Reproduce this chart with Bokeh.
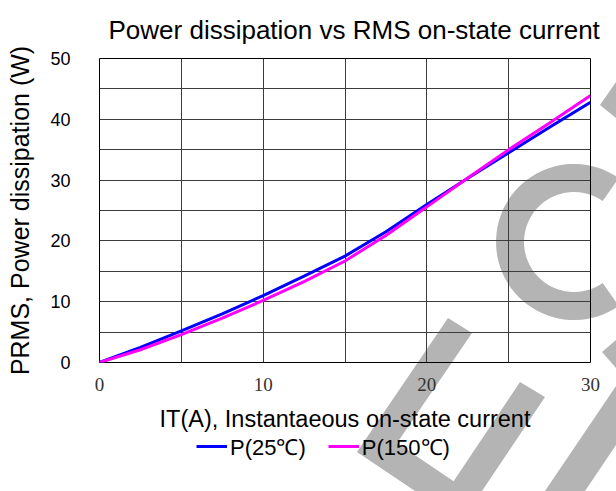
import urllib.parse
import numpy as np
from bokeh.plotting import figure
from bokeh.layouts import column
from bokeh.models import FixedTicker, Legend, LegendItem
from bokeh.embed import file_html
from bokeh.resources import INLINE

# ---- data ----
current = [0, 2.5, 5, 7.5, 10, 12.5, 15, 17.5, 20, 22.5, 25, 27.5, 30]
p_25c = [0, 2.5, 5.2, 8.0, 11.0, 14.2, 17.5, 21.5, 26.0, 30.3, 34.5, 38.7, 42.8]
p_150c = [0, 2.1, 4.6, 7.3, 10.2, 13.3, 16.7, 20.9, 25.6, 30.35, 35.0, 39.4, 43.9]
x_tick_values = [0, 10, 20, 30]
y_tick_values = [0, 10, 20, 30, 40, 50]
x_grid_values = [0, 5, 10, 15, 20, 25, 30]
y_grid_values = [0, 5, 10, 15, 20, 25, 30, 35, 40, 45, 50]
series = [("P(25℃)", p_25c, "#0000FF"), ("P(150℃)", p_150c, "#FF00FF")]

W, H = 616, 491
H_MAIN = 435          # main figure; the legend strip sits below it
H_LEG = H - H_MAIN

# ---- decorative grey watermark, painted behind the (transparent) canvases ----
shapes = [
    [(448, 318), (472, 333), (397, 443), (468, 491), (415, 491), (357, 452)],
    [(520, 382), (545, 397), (482, 491), (447, 491)],
    [(600, 105), (616, 82), (616, 118)],
    [(602, 352), (616, 340), (616, 368)],
    [(545, 491), (616, 386), (616, 445), (585, 491)],
]
cx, cy, r_out, r_in = 574, 242, 78, 50
ang = np.radians(np.linspace(55, 305, 60))
outer = [(cx + r_out * np.cos(a), cy - r_out * np.sin(a)) for a in ang]
inner = [(cx + r_in * np.cos(a), cy - r_in * np.sin(a)) for a in ang[::-1]]
shapes.append(outer + inner)
poly_svg = "".join(
    '<polygon fill="#b4b4b4" points="%s"/>' % " ".join("%.1f,%.1f" % (x, y) for x, y in s)
    for s in shapes)
svg = ('<svg xmlns="http://www.w3.org/2000/svg" width="%d" height="%d">' % (W, H)
       + poly_svg + "</svg>")
uri = "data:image/svg+xml;charset=utf-8," + urllib.parse.quote(svg)

# ---- main chart ----
p = figure(width=W, height=H_MAIN, x_range=(0, 30), y_range=(0, 50),
           output_backend="svg", toolbar_location=None,
           min_border_left=99, min_border_right=26,
           min_border_top=58, min_border_bottom=H_MAIN - 362)
p.background_fill_color = None
p.border_fill_color = None
p.outline_line_color = "black"
p.outline_line_width = 1

p.title.text = "Power dissipation vs RMS on-state current"
p.title.align = "left"
p.title.offset = 9
p.title.vertical_align = "top"
p.title.text_font = "Liberation Sans"
p.title.text_font_size = "26px"
p.title.text_font_style = "normal"
p.title.text_color = "black"
p.title.standoff = 24

for ax in (p.xaxis[0], p.yaxis[0]):
    ax.axis_line_color = None
    ax.major_tick_line_color = None
    ax.minor_tick_line_color = None
    ax.axis_label_text_font = "Liberation Sans"
    ax.axis_label_text_font_style = "normal"
    ax.axis_label_text_color = "black"

p.xaxis.ticker = FixedTicker(ticks=x_tick_values)
p.yaxis.ticker = FixedTicker(ticks=y_tick_values)
p.xaxis.axis_label = "IT(A), Instantaeous on-state current"
p.yaxis.axis_label = "PRMS, Power dissipation (W)"
p.xaxis.axis_label_text_font_size = "23.5px"
p.yaxis.axis_label_text_font_size = "25px"
p.xaxis.major_label_text_font = "Liberation Serif"
p.xaxis.major_label_text_font_size = "19px"
p.xaxis.major_label_text_color = "#333333"
p.xaxis.major_label_standoff = 9
p.xaxis.axis_label_standoff = 12
p.yaxis.major_label_text_font = "Liberation Sans"
p.yaxis.major_label_text_font_size = "18px"
p.yaxis.major_label_text_color = "black"
p.yaxis.major_label_standoff = 23
p.yaxis.axis_label_standoff = 13

p.xgrid.ticker = FixedTicker(ticks=x_grid_values)
p.ygrid.ticker = FixedTicker(ticks=y_grid_values)
for g in (p.xgrid[0], p.ygrid[0]):
    g.grid_line_color = "#3c3c3c"
    g.grid_line_width = 1
    g.grid_line_alpha = 1

for _, vals, col in series:
    p.line(current, vals, line_color=col, line_width=3)

# ---- legend strip below the chart (hidden twin renderers only feed the keys) ----
pl = figure(width=W, height=H_LEG, x_range=(0, 30), y_range=(0, 50),
            x_axis_type=None, y_axis_type=None,
            output_backend="svg", toolbar_location=None, min_border=0)
pl.background_fill_color = None
pl.border_fill_color = None
pl.outline_line_color = None
items = []
for lab, vals, col in series:
    k = pl.line(current, vals, line_color=col, line_width=3, visible=False)
    items.append(LegendItem(label=lab, renderers=[k]))
legend = Legend(items=items, orientation="horizontal", location=(97, H_LEG - 26),
                padding=0, margin=0, spacing=22, glyph_width=31, glyph_height=24,
                label_standoff=3, label_text_font="Liberation Sans",
                label_text_font_size="22px", label_text_color="black",
                background_fill_alpha=0, border_line_color=None,
                inactive_fill_alpha=0)
pl.add_layout(legend, "center")

layout = column(p, pl, spacing=0,
                styles={"background-color": "white",
                        "background-image": 'url("%s")' % uri,
                        "background-repeat": "no-repeat",
                        "background-size": "%dpx %dpx" % (W, H)})

open("out.html", "w").write(file_html(layout, INLINE))
